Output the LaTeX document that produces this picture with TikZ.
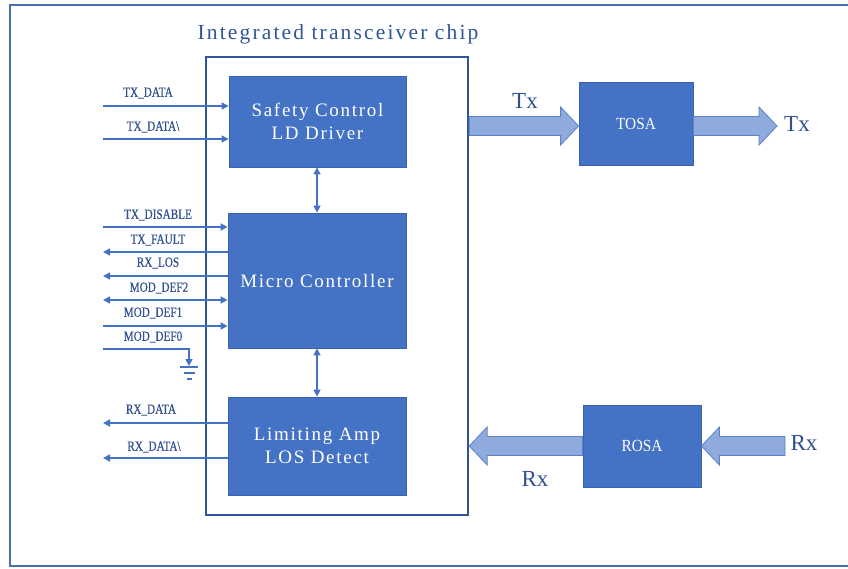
\documentclass[tikz,border=0pt]{standalone}
\usepackage{fontspec}
\setmainfont{Liberation Serif}
\newfontfamily\monofont[LetterSpace=9]{Liberation Serif}
\newfontfamily\titlefont[LetterSpace=10]{Liberation Serif}
\newfontfamily\sigfont[FakeStretch=0.8,FakeBold=0.4]{Liberation Serif}
\newfontfamily\optfont[FakeStretch=0.9]{Liberation Serif}
\usetikzlibrary{arrows.meta,calc}
\definecolor{blockblue}{HTML}{4472C4}
\definecolor{blockedge}{HTML}{3A62AE}
\definecolor{darkblue}{HTML}{2F5597}
\definecolor{lightblue}{HTML}{8FAADC}
\definecolor{fatedge}{HTML}{5B80C6}
\definecolor{framecol}{HTML}{4A6FA8}
\definecolor{txtblue}{HTML}{2F4F8F}
\newcommand\fatarrow[3]{%
  \path[fatstyle] let \p1=(#1), \p2=(#2) in
    ({\x1},{\y1+9.5pt}) -- ({\x2-(#3pt)},{\y1+9.5pt}) -- ({\x2-(#3pt)},{\y1+19pt})
    -- ({\x2},{\y1}) -- ({\x2-(#3pt)},{\y1-19pt}) -- ({\x2-(#3pt)},{\y1-9.5pt})
    -- ({\x1},{\y1-9.5pt}) -- cycle;}
\tikzset{
  block/.style={draw=blockedge, line width=0.8pt, fill=blockblue, text=white,
    inner sep=0pt, align=center, font=\monofont\fontsize{19}{23}\selectfont},
  optblock/.style={draw=blockedge, line width=0.8pt, fill=blockblue, text=white,
    inner sep=0pt, font=\optfont\fontsize{17}{17}\selectfont},
  chipbox/.style={draw=darkblue, line width=2.2pt, inner sep=0pt},
  fatstyle/.style={draw=fatedge, line width=0.8pt, fill=lightblue},
  sig/.style={draw=blockblue, line width=1.6pt},
  tip/.style={-{Triangle[length=7pt,width=7pt]}},
  rtip/.style={{Triangle[length=7pt,width=7pt]}-},
  btip/.style={{Triangle[length=7pt,width=7pt]}-{Triangle[length=7pt,width=7pt]}},
  siglabel/.style={text=txtblue, inner sep=0pt, font=\sigfont\fontsize{14}{14}\selectfont},
  biglabel/.style={text=txtblue, inner sep=0pt, font=\fontsize{23}{23}\selectfont},
}
\begin{document}
\begin{tikzpicture}[x=1pt,y=-1pt]
\useasboundingbox (0,0) rectangle (848,568);
% outer frame
\draw[framecol, line width=1.5pt] (10,5) rectangle (880,566);
% chip
\node[chipbox, minimum width=262, minimum height=458, anchor=north west] (chip) at (205,56) {};
\node[text=darkblue, inner sep=0pt, font=\titlefont\fontsize{21.5}{21.5}\selectfont] (title) at (338,34) {Integrated transceiver chip};
% blocks
\node[block, minimum width=177, minimum height=91] (sc) at (317.5,121.5) {Safety Control\\LD Driver};
\node[block, minimum width=178, minimum height=135] (mc) at (317,280.5) {Micro Controller};
\node[block, minimum width=178, minimum height=98] (la) at (317,446) {Limiting Amp\\LOS Detect};
\node[optblock, minimum width=114, minimum height=83] (tosa) at (636,123.5) {TOSA};
\node[optblock, minimum width=118, minimum height=82] (rosa) at (642,446) {ROSA};
% inter-block arrows
\draw[sig, btip] (sc.south -| 317,0) -- (mc.north -| 317,0);
\draw[sig, btip] (mc.south) -- (la.north);
% fat arrows
\coordinate (txy) at (0,126);
\coordinate (txend) at (777,126);
\coordinate (rxstart) at (785,446);
\fatarrow{chip.east |- txy}{tosa.west |- txy}{18}
\fatarrow{tosa.east |- txy}{txend}{18}
\fatarrow{rxstart}{rosa.east}{-18}
\fatarrow{rosa.west}{chip.east |- rosa.west}{-18}
\node[biglabel] (tx1) at (525,101) {Tx};
\node[biglabel] (tx2) at (797,124) {Tx};
\node[biglabel] (rx1) at (804,443) {Rx};
\node[biglabel] (rx2) at (535,479) {Rx};
% signal lines
\coordinate (s1) at (103,106);
\coordinate (s2) at (103,139);
\coordinate (s3) at (103,227);
\coordinate (s4) at (103,252);
\coordinate (s5) at (103,276);
\coordinate (s6) at (103,300);
\coordinate (s7) at (103,326);
\coordinate (s8) at (103,349);
\coordinate (s9) at (103,423);
\coordinate (s10) at (103,458);
\draw[sig, tip] (s1) -- (s1 -| sc.west);
\draw[sig, tip] (s2) -- (s2 -| sc.west);
\draw[sig, tip] (s3) -- (s3 -| mc.west);
\draw[sig, rtip] (s4) -- (s4 -| mc.west);
\draw[sig, rtip] (s5) -- (s5 -| mc.west);
\draw[sig, btip] (s6) -- (s6 -| mc.west);
\draw[sig, tip] (s7) -- (s7 -| mc.west);
\draw[sig, rtip] (s9) -- (s9 -| la.west);
\draw[sig, rtip] (s10) -- (s10 -| la.west);
% ground
\coordinate (gc) at (189,349);
\coordinate (gt) at (189,366);
\draw[sig, tip] (s8) -- (gc) -- (gt);
\draw[sig] (180,367) -- (198,367);
\draw[sig] (184,373) -- (195,373);
\draw[sig] (187,379) -- (192,379);
% labels
\node[siglabel] (l1) at (148,93) {TX\_DATA};
\node[siglabel] (l2) at (153,127) {TX\_DATA\textbackslash};
\node[siglabel] (l3) at (158,215) {TX\_DISABLE};
\node[siglabel] (l4) at (158,240) {TX\_FAULT};
\node[siglabel] (l5) at (158,263) {RX\_LOS};
\node[siglabel] (l6) at (159,288) {MOD\_DEF2};
\node[siglabel] (l7) at (153,313) {MOD\_DEF1};
\node[siglabel] (l8) at (153,337) {MOD\_DEF0};
\node[siglabel] (l9) at (151,410) {RX\_DATA};
\node[siglabel] (l10) at (154,447) {RX\_DATA\textbackslash};
\end{tikzpicture}
\end{document}
